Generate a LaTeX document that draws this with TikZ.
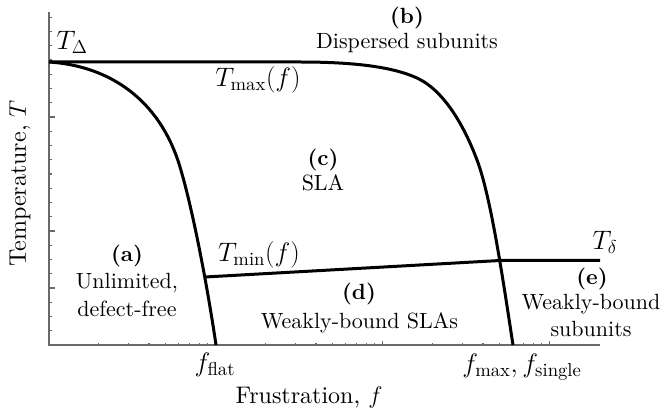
\RequirePackage{fix-cm}
\documentclass[tikz,border=0pt]{standalone}
\usepackage{fontspec}
\setmainfont{lmroman10-regular.otf}[BoldFont=lmroman10-bold.otf, ItalicFont=lmroman10-italic.otf]
\usepackage{amsmath}

\tikzset{every picture/.style={line width=0.75pt}}
\tikzset{
  axisline/.style={color={rgb, 255:red, 105; green, 105; blue, 105}, line width=0.9},
  boundary/.style={line width=2.25},
  lbl/.style={inner sep=0.75pt, anchor=base, font=\fontsize{16.5}{19.8}\selectfont},
  mathlbl/.style={lbl, font=\fontsize{20}{24}\selectfont},
  axislbl/.style={lbl, font=\fontsize{18}{21.6}\selectfont},
}

\begin{document}
\begin{tikzpicture}[x=0.75pt,y=0.75pt,yscale=-1,xscale=1]
\useasboundingbox (0,0) rectangle (663,416);

% axes
\coordinate (top) at (49,12);
\coordinate (origin) at (49,345);
\coordinate (right) at (600,345);
\draw [axisline] (top) -- (origin) -- (right);
\foreach \k in {1,...,23} { \draw [axisline] (49,{345-14.25*\k}) -- ++(3,0); }
\foreach \k in {4,8,16} { \draw [axisline] (49,{345-14.25*\k}) -- ++(6,0); }
% log ticks along f
\foreach \d in {48.5,215.5,382.5} {
  \foreach \m in {2,...,9} { \draw [axisline] ({\d+167*ln(\m)/ln(10)},345) -- ++(0,-2.5); }
  \draw [axisline] ({\d+167},345) -- ++(0,-4.5);
}

% phase boundaries
\coordinate (TD) at (49,62);
\coordinate (fflat) at (216,345);
\coordinate (fmax) at (513,345);
\coordinate (kink) at (205,277);
\coordinate (triple) at (500,260.5);
\coordinate (Tdend) at (600,260.5);

\draw [boundary] (TD) .. controls (110,66) and (160,100) .. (180,167) .. controls (193,210) and (208,290) .. (fflat) ;
\draw [boundary] (TD) -- (300,62) .. controls (360,62) and (395,68) .. (417,78) .. controls (445,91) and (465,128) .. (477,160) .. controls (491,197) and (503,280) .. (fmax) ;
\draw [boundary] (kink) -- (triple) -- (Tdend) ;

% labels
\node [mathlbl, anchor=base west] (Tdelta) at (55,50) {$T_\Delta$};
\node [lbl] (labb) at (407,23.5) {\textbf{(b)}};
\node [lbl] (labbtxt) at (407,49) {Dispersed subunits};
\node [mathlbl] (Tmax) at (258,87) {$T_{\max}(f)$};
\node [lbl] (labc) at (323,165.5) {\textbf{(c)}};
\node [lbl] (labctxt) at (323,190.5) {SLA};
\node [lbl] (laba) at (127,262) {\textbf{(a)}};
\node [lbl] (labatxt) at (127,288.5) {Unlimited,};
\node [lbl] (labatxtb) at (127,316) {defect-free};
\node [mathlbl] (Tmin) at (259,262) {$T_{\min}(f)$};
\node [lbl] (labd) at (359,300) {\textbf{(d)}};
\node [lbl] (labdtxt) at (359.5,328) {Weakly-bound SLAs};
\node [mathlbl] (Tsmall) at (605,249.5) {$T_\delta$};
\node [lbl] (labe) at (592,285) {\textbf{(e)}};
\node [lbl] (labetxt) at (591,310) {Weakly-bound};
\node [lbl] (labetxtb) at (591,336) {subunits};
\node [mathlbl] (fflatlbl) at (215,371.5) {$f_{\text{flat}}$};
\node [mathlbl] (fmaxlbl) at (522,372) {$f_{\max}, f_{\text{single}}$};
\node [axislbl] (xlabel) at (309,403) {Frustration, $f$};
\node [axislbl, rotate=90] (ylabel) at (26,183.5) {Temperature, $T$};
\end{tikzpicture}
\end{document}
